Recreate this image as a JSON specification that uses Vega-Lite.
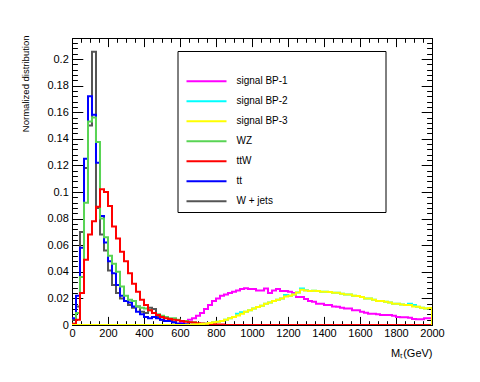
{
  "$schema": "https://vega.github.io/schema/vega-lite/v6.json",
  "width": 360,
  "height": 287,
  "autosize": {"type": "none"},
  "padding": {"left": 72, "top": 38, "right": 48, "bottom": 57},
  "background": "white",
  "config": {
    "view": {"stroke": "black", "strokeWidth": 1},
    "axis": {"grid": false, "domainColor": "black", "tickColor": "black", "labelColor": "black", "titleColor": "black", "labelFont": "Liberation Sans", "titleFont": "Liberation Sans", "labelFontSize": 11, "titleFontSize": 11, "titleFontWeight": "normal", "domainWidth": 1, "tickWidth": 1}
  },
  "data": {"values": [
    {"s":"signal BP-1","x":0,"y":0},{"s":"signal BP-1","x":577.8,"y":0.001},{"s":"signal BP-1","x":600,"y":0.002},{"s":"signal BP-1","x":622.2,"y":0.003},{"s":"signal BP-1","x":644.4,"y":0.004},{"s":"signal BP-1","x":666.7,"y":0.005},{"s":"signal BP-1","x":688.9,"y":0.007},{"s":"signal BP-1","x":711.1,"y":0.009},{"s":"signal BP-1","x":733.3,"y":0.012},{"s":"signal BP-1","x":755.6,"y":0.015},{"s":"signal BP-1","x":777.8,"y":0.018},{"s":"signal BP-1","x":800,"y":0.020},{"s":"signal BP-1","x":822.2,"y":0.022},{"s":"signal BP-1","x":844.4,"y":0.023},{"s":"signal BP-1","x":866.7,"y":0.024},{"s":"signal BP-1","x":888.9,"y":0.025},{"s":"signal BP-1","x":911.1,"y":0.026},{"s":"signal BP-1","x":933.3,"y":0.027},{"s":"signal BP-1","x":955.6,"y":0.0277},{"s":"signal BP-1","x":977.8,"y":0.027},{"s":"signal BP-1","x":1000,"y":0.027},{"s":"signal BP-1","x":1022.2,"y":0.026},{"s":"signal BP-1","x":1044.4,"y":0.026},{"s":"signal BP-1","x":1066.7,"y":0.0275},{"s":"signal BP-1","x":1088.9,"y":0.024},{"s":"signal BP-1","x":1111.1,"y":0.026},{"s":"signal BP-1","x":1133.3,"y":0.027},{"s":"signal BP-1","x":1155.6,"y":0.0255},{"s":"signal BP-1","x":1177.8,"y":0.0255},{"s":"signal BP-1","x":1200,"y":0.025},{"s":"signal BP-1","x":1222.2,"y":0.024},{"s":"signal BP-1","x":1244.4,"y":0.021},{"s":"signal BP-1","x":1266.7,"y":0.021},{"s":"signal BP-1","x":1288.9,"y":0.0195},{"s":"signal BP-1","x":1311.1,"y":0.018},{"s":"signal BP-1","x":1333.3,"y":0.0175},{"s":"signal BP-1","x":1355.6,"y":0.016},{"s":"signal BP-1","x":1377.8,"y":0.016},{"s":"signal BP-1","x":1400,"y":0.015},{"s":"signal BP-1","x":1422.2,"y":0.015},{"s":"signal BP-1","x":1444.4,"y":0.014},{"s":"signal BP-1","x":1466.7,"y":0.0138},{"s":"signal BP-1","x":1488.9,"y":0.013},{"s":"signal BP-1","x":1511.1,"y":0.0125},{"s":"signal BP-1","x":1533.3,"y":0.0125},{"s":"signal BP-1","x":1555.6,"y":0.011},{"s":"signal BP-1","x":1577.8,"y":0.011},{"s":"signal BP-1","x":1600,"y":0.010},{"s":"signal BP-1","x":1622.2,"y":0.0093},{"s":"signal BP-1","x":1644.4,"y":0.0085},{"s":"signal BP-1","x":1666.7,"y":0.0085},{"s":"signal BP-1","x":1688.9,"y":0.008},{"s":"signal BP-1","x":1711.1,"y":0.0075},{"s":"signal BP-1","x":1733.3,"y":0.0075},{"s":"signal BP-1","x":1755.6,"y":0.0075},{"s":"signal BP-1","x":1777.8,"y":0.007},{"s":"signal BP-1","x":1800,"y":0.006},{"s":"signal BP-1","x":1822.2,"y":0.0058},{"s":"signal BP-1","x":1844.4,"y":0.0058},{"s":"signal BP-1","x":1866.7,"y":0.0055},{"s":"signal BP-1","x":1888.9,"y":0.0045},{"s":"signal BP-1","x":1911.1,"y":0.0043},{"s":"signal BP-1","x":1933.3,"y":0.0043},{"s":"signal BP-1","x":1955.6,"y":0.005},{"s":"signal BP-1","x":1977.8,"y":0.005},{"s":"signal BP-1","x":2000,"y":0},

    {"s":"signal BP-2","x":0,"y":0},{"s":"signal BP-2","x":666.7,"y":0.0003},{"s":"signal BP-2","x":688.9,"y":0.0005},{"s":"signal BP-2","x":711.1,"y":0.0008},{"s":"signal BP-2","x":733.3,"y":0.001},{"s":"signal BP-2","x":755.6,"y":0.0015},{"s":"signal BP-2","x":777.8,"y":0.002},{"s":"signal BP-2","x":800,"y":0.0025},{"s":"signal BP-2","x":822.2,"y":0.003},{"s":"signal BP-2","x":844.4,"y":0.004},{"s":"signal BP-2","x":866.7,"y":0.005},{"s":"signal BP-2","x":888.9,"y":0.006},{"s":"signal BP-2","x":911.1,"y":0.0085},{"s":"signal BP-2","x":933.3,"y":0.0095},{"s":"signal BP-2","x":955.6,"y":0.010},{"s":"signal BP-2","x":977.8,"y":0.011},{"s":"signal BP-2","x":1000,"y":0.0125},{"s":"signal BP-2","x":1022.2,"y":0.0135},{"s":"signal BP-2","x":1044.4,"y":0.0145},{"s":"signal BP-2","x":1066.7,"y":0.016},{"s":"signal BP-2","x":1088.9,"y":0.017},{"s":"signal BP-2","x":1111.1,"y":0.018},{"s":"signal BP-2","x":1133.3,"y":0.019},{"s":"signal BP-2","x":1155.6,"y":0.020},{"s":"signal BP-2","x":1177.8,"y":0.0225},{"s":"signal BP-2","x":1200,"y":0.022},{"s":"signal BP-2","x":1222.2,"y":0.023},{"s":"signal BP-2","x":1244.4,"y":0.0245},{"s":"signal BP-2","x":1266.7,"y":0.0275},{"s":"signal BP-2","x":1288.9,"y":0.0262},{"s":"signal BP-2","x":1311.1,"y":0.0255},{"s":"signal BP-2","x":1333.3,"y":0.0258},{"s":"signal BP-2","x":1355.6,"y":0.0255},{"s":"signal BP-2","x":1377.8,"y":0.025},{"s":"signal BP-2","x":1400,"y":0.025},{"s":"signal BP-2","x":1422.2,"y":0.0248},{"s":"signal BP-2","x":1444.4,"y":0.0243},{"s":"signal BP-2","x":1466.7,"y":0.0243},{"s":"signal BP-2","x":1488.9,"y":0.0235},{"s":"signal BP-2","x":1511.1,"y":0.023},{"s":"signal BP-2","x":1533.3,"y":0.023},{"s":"signal BP-2","x":1555.6,"y":0.022},{"s":"signal BP-2","x":1577.8,"y":0.0218},{"s":"signal BP-2","x":1600,"y":0.021},{"s":"signal BP-2","x":1622.2,"y":0.020},{"s":"signal BP-2","x":1644.4,"y":0.020},{"s":"signal BP-2","x":1666.7,"y":0.019},{"s":"signal BP-2","x":1688.9,"y":0.018},{"s":"signal BP-2","x":1711.1,"y":0.018},{"s":"signal BP-2","x":1733.3,"y":0.0175},{"s":"signal BP-2","x":1755.6,"y":0.017},{"s":"signal BP-2","x":1777.8,"y":0.016},{"s":"signal BP-2","x":1800,"y":0.016},{"s":"signal BP-2","x":1822.2,"y":0.0155},{"s":"signal BP-2","x":1844.4,"y":0.015},{"s":"signal BP-2","x":1866.7,"y":0.016},{"s":"signal BP-2","x":1888.9,"y":0.015},{"s":"signal BP-2","x":1911.1,"y":0.0138},{"s":"signal BP-2","x":1933.3,"y":0.013},{"s":"signal BP-2","x":1955.6,"y":0.0125},{"s":"signal BP-2","x":1977.8,"y":0.0128},{"s":"signal BP-2","x":2000,"y":0},

    {"s":"signal BP-3","x":0,"y":0},{"s":"signal BP-3","x":666.7,"y":0.0003},{"s":"signal BP-3","x":688.9,"y":0.0005},{"s":"signal BP-3","x":711.1,"y":0.0008},{"s":"signal BP-3","x":733.3,"y":0.001},{"s":"signal BP-3","x":755.6,"y":0.0015},{"s":"signal BP-3","x":777.8,"y":0.002},{"s":"signal BP-3","x":800,"y":0.0025},{"s":"signal BP-3","x":822.2,"y":0.003},{"s":"signal BP-3","x":844.4,"y":0.004},{"s":"signal BP-3","x":866.7,"y":0.005},{"s":"signal BP-3","x":888.9,"y":0.006},{"s":"signal BP-3","x":911.1,"y":0.0072},{"s":"signal BP-3","x":933.3,"y":0.0085},{"s":"signal BP-3","x":955.6,"y":0.010},{"s":"signal BP-3","x":977.8,"y":0.011},{"s":"signal BP-3","x":1000,"y":0.0125},{"s":"signal BP-3","x":1022.2,"y":0.0135},{"s":"signal BP-3","x":1044.4,"y":0.0145},{"s":"signal BP-3","x":1066.7,"y":0.016},{"s":"signal BP-3","x":1088.9,"y":0.017},{"s":"signal BP-3","x":1111.1,"y":0.018},{"s":"signal BP-3","x":1133.3,"y":0.019},{"s":"signal BP-3","x":1155.6,"y":0.020},{"s":"signal BP-3","x":1177.8,"y":0.0215},{"s":"signal BP-3","x":1200,"y":0.022},{"s":"signal BP-3","x":1222.2,"y":0.023},{"s":"signal BP-3","x":1244.4,"y":0.0245},{"s":"signal BP-3","x":1266.7,"y":0.0265},{"s":"signal BP-3","x":1288.9,"y":0.026},{"s":"signal BP-3","x":1311.1,"y":0.0255},{"s":"signal BP-3","x":1333.3,"y":0.0258},{"s":"signal BP-3","x":1355.6,"y":0.0255},{"s":"signal BP-3","x":1377.8,"y":0.025},{"s":"signal BP-3","x":1400,"y":0.025},{"s":"signal BP-3","x":1422.2,"y":0.0248},{"s":"signal BP-3","x":1444.4,"y":0.0243},{"s":"signal BP-3","x":1466.7,"y":0.0243},{"s":"signal BP-3","x":1488.9,"y":0.0235},{"s":"signal BP-3","x":1511.1,"y":0.023},{"s":"signal BP-3","x":1533.3,"y":0.023},{"s":"signal BP-3","x":1555.6,"y":0.022},{"s":"signal BP-3","x":1577.8,"y":0.0218},{"s":"signal BP-3","x":1600,"y":0.021},{"s":"signal BP-3","x":1622.2,"y":0.020},{"s":"signal BP-3","x":1644.4,"y":0.020},{"s":"signal BP-3","x":1666.7,"y":0.019},{"s":"signal BP-3","x":1688.9,"y":0.018},{"s":"signal BP-3","x":1711.1,"y":0.018},{"s":"signal BP-3","x":1733.3,"y":0.0175},{"s":"signal BP-3","x":1755.6,"y":0.017},{"s":"signal BP-3","x":1777.8,"y":0.016},{"s":"signal BP-3","x":1800,"y":0.016},{"s":"signal BP-3","x":1822.2,"y":0.0155},{"s":"signal BP-3","x":1844.4,"y":0.015},{"s":"signal BP-3","x":1866.7,"y":0.015},{"s":"signal BP-3","x":1888.9,"y":0.014},{"s":"signal BP-3","x":1911.1,"y":0.0138},{"s":"signal BP-3","x":1933.3,"y":0.013},{"s":"signal BP-3","x":1955.6,"y":0.0125},{"s":"signal BP-3","x":1977.8,"y":0.0128},{"s":"signal BP-3","x":2000,"y":0},

    {"s":"WZ","x":0,"y":0.001},{"s":"WZ","x":22.2,"y":0.009},{"s":"WZ","x":44.4,"y":0.036},{"s":"WZ","x":66.7,"y":0.092},{"s":"WZ","x":88.9,"y":0.153},{"s":"WZ","x":111.1,"y":0.156},{"s":"WZ","x":133.3,"y":0.1376},{"s":"WZ","x":155.6,"y":0.080},{"s":"WZ","x":177.8,"y":0.066},{"s":"WZ","x":200,"y":0.052},{"s":"WZ","x":222.2,"y":0.046},{"s":"WZ","x":244.4,"y":0.040},{"s":"WZ","x":266.7,"y":0.029},{"s":"WZ","x":288.9,"y":0.022},{"s":"WZ","x":311.1,"y":0.019},{"s":"WZ","x":333.3,"y":0.018},{"s":"WZ","x":355.6,"y":0.014},{"s":"WZ","x":377.8,"y":0.013},{"s":"WZ","x":400,"y":0.0125},{"s":"WZ","x":422.2,"y":0.011},{"s":"WZ","x":444.4,"y":0.009},{"s":"WZ","x":466.7,"y":0.008},{"s":"WZ","x":488.9,"y":0.007},{"s":"WZ","x":511.1,"y":0.006},{"s":"WZ","x":533.3,"y":0.005},{"s":"WZ","x":555.6,"y":0.005},{"s":"WZ","x":577.8,"y":0.004},{"s":"WZ","x":600,"y":0.003},{"s":"WZ","x":622.2,"y":0.003},{"s":"WZ","x":644.4,"y":0.002},{"s":"WZ","x":666.7,"y":0.002},{"s":"WZ","x":688.9,"y":0.001},{"s":"WZ","x":711.1,"y":0.001},{"s":"WZ","x":733.3,"y":0.0005},{"s":"WZ","x":755.6,"y":0},{"s":"WZ","x":2000,"y":0},

    {"s":"ttW","x":0,"y":0.001},{"s":"ttW","x":22.2,"y":0.004},{"s":"ttW","x":44.4,"y":0.024},{"s":"ttW","x":66.7,"y":0.049},{"s":"ttW","x":88.9,"y":0.068},{"s":"ttW","x":111.1,"y":0.078},{"s":"ttW","x":133.3,"y":0.089},{"s":"ttW","x":155.6,"y":0.102},{"s":"ttW","x":177.8,"y":0.100},{"s":"ttW","x":200,"y":0.0895},{"s":"ttW","x":222.2,"y":0.074},{"s":"ttW","x":244.4,"y":0.065},{"s":"ttW","x":266.7,"y":0.055},{"s":"ttW","x":288.9,"y":0.048},{"s":"ttW","x":311.1,"y":0.039},{"s":"ttW","x":333.3,"y":0.031},{"s":"ttW","x":355.6,"y":0.025},{"s":"ttW","x":377.8,"y":0.019},{"s":"ttW","x":400,"y":0.015},{"s":"ttW","x":422.2,"y":0.011},{"s":"ttW","x":444.4,"y":0.009},{"s":"ttW","x":466.7,"y":0.0075},{"s":"ttW","x":488.9,"y":0.006},{"s":"ttW","x":511.1,"y":0.005},{"s":"ttW","x":533.3,"y":0.0045},{"s":"ttW","x":555.6,"y":0.004},{"s":"ttW","x":577.8,"y":0.0035},{"s":"ttW","x":600,"y":0.003},{"s":"ttW","x":622.2,"y":0.0025},{"s":"ttW","x":644.4,"y":0.002},{"s":"ttW","x":666.7,"y":0.0018},{"s":"ttW","x":688.9,"y":0.0014},{"s":"ttW","x":711.1,"y":0.0012},{"s":"ttW","x":733.3,"y":0.001},{"s":"ttW","x":755.6,"y":0.0008},{"s":"ttW","x":777.8,"y":0.0005},{"s":"ttW","x":800,"y":0.0004},{"s":"ttW","x":822.2,"y":0.0003},{"s":"ttW","x":844.4,"y":0},{"s":"ttW","x":2000,"y":0},

    {"s":"tt","x":0,"y":0.005},{"s":"tt","x":22.2,"y":0.022},{"s":"tt","x":44.4,"y":0.058},{"s":"tt","x":66.7,"y":0.125},{"s":"tt","x":88.9,"y":0.172},{"s":"tt","x":111.1,"y":0.158},{"s":"tt","x":133.3,"y":0.122},{"s":"tt","x":155.6,"y":0.082},{"s":"tt","x":177.8,"y":0.062},{"s":"tt","x":200,"y":0.048},{"s":"tt","x":222.2,"y":0.039},{"s":"tt","x":244.4,"y":0.030},{"s":"tt","x":266.7,"y":0.022},{"s":"tt","x":288.9,"y":0.018},{"s":"tt","x":311.1,"y":0.017},{"s":"tt","x":333.3,"y":0.014},{"s":"tt","x":355.6,"y":0.010},{"s":"tt","x":377.8,"y":0.008},{"s":"tt","x":400,"y":0.006},{"s":"tt","x":422.2,"y":0.005},{"s":"tt","x":444.4,"y":0.006},{"s":"tt","x":466.7,"y":0.005},{"s":"tt","x":488.9,"y":0.004},{"s":"tt","x":511.1,"y":0.003},{"s":"tt","x":533.3,"y":0.003},{"s":"tt","x":555.6,"y":0.002},{"s":"tt","x":577.8,"y":0.001},{"s":"tt","x":600,"y":0.001},{"s":"tt","x":622.2,"y":0.0005},{"s":"tt","x":644.4,"y":0},{"s":"tt","x":2000,"y":0},

    {"s":"W + jets","x":0,"y":0.004},{"s":"W + jets","x":22.2,"y":0.014},{"s":"W + jets","x":44.4,"y":0.070},{"s":"W + jets","x":66.7,"y":0.118},{"s":"W + jets","x":88.9,"y":0.150},{"s":"W + jets","x":111.1,"y":0.2055},{"s":"W + jets","x":133.3,"y":0.088},{"s":"W + jets","x":155.6,"y":0.068},{"s":"W + jets","x":177.8,"y":0.056},{"s":"W + jets","x":200,"y":0.041},{"s":"W + jets","x":222.2,"y":0.030},{"s":"W + jets","x":244.4,"y":0.024},{"s":"W + jets","x":266.7,"y":0.020},{"s":"W + jets","x":288.9,"y":0.018},{"s":"W + jets","x":311.1,"y":0.015},{"s":"W + jets","x":333.3,"y":0.013},{"s":"W + jets","x":355.6,"y":0.014},{"s":"W + jets","x":377.8,"y":0.010},{"s":"W + jets","x":400,"y":0.009},{"s":"W + jets","x":422.2,"y":0.013},{"s":"W + jets","x":444.4,"y":0.012},{"s":"W + jets","x":466.7,"y":0.006},{"s":"W + jets","x":488.9,"y":0.004},{"s":"W + jets","x":511.1,"y":0.003},{"s":"W + jets","x":533.3,"y":0.003},{"s":"W + jets","x":555.6,"y":0.002},{"s":"W + jets","x":577.8,"y":0.001},{"s":"W + jets","x":600,"y":0.0005},{"s":"W + jets","x":622.2,"y":0},{"s":"W + jets","x":2000,"y":0}
  ]},
  "encoding": {
    "color": {
      "field": "s", "type": "nominal",
      "scale": {"domain": ["signal BP-1", "signal BP-2", "signal BP-3", "WZ", "ttW", "tt", "W + jets"], "range": ["#ff00ff", "#00ffff", "#ffff00", "#59d454", "#ff0000", "#0000ff", "#555555"]},
      "legend": {
        "orient": "none", "legendX": 105.5, "legendY": 13, "direction": "vertical",
        "title": "\u200b\u00a0\u00a0\u00a0\u00a0\u00a0\u00a0\u00a0\u00a0\u00a0\u00a0\u00a0\u00a0\u00a0\u00a0\u00a0\u00a0\u00a0\u00a0\u00a0\u00a0\u00a0\u00a0\u00a0\u00a0\u00a0\u00a0\u00a0\u00a0\u00a0\u00a0\u00a0\u00a0\u00a0\u00a0\u00a0\u00a0\u00a0\u00a0\u00a0\u00a0\u00a0\u00a0\u00a0\u00a0\u00a0\u00a0\u00a0\u00a0\u00a0\u00a0\u00a0\u00a0\u00a0\u00a0\u00a0\u00a0\u00a0\u00a0\u00a0\u00a0\u00a0\u00a0\u00a0\u00a0\u00a0\u00a0\u00a0\u00a0\u200b",
        "titleFont": "Liberation Sans", "titleFontSize": 11, "titlePadding": 9.5, "titleLimit": 400,
        "padding": 0, "strokeColor": "black", "fillColor": "white", "cornerRadius": 0,
        "symbolType": "stroke", "symbolSize": 1600, "symbolStrokeWidth": 2, "symbolOffset": 8,
        "labelFont": "Liberation Sans", "labelFontSize": 10, "labelColor": "black", "labelOffset": 9,
        "rowPadding": 0, "clipHeight": 19.6, "labelLimit": 300
      }
    }
  },
  "resolve": {"axis": {"x": "independent", "y": "independent"}},
  "layer": [
    {
      "transform": [{"filter": "datum.s === 'signal BP-1'"}],
      "mark": {"type": "line", "interpolate": "step-after", "strokeWidth": 2, "clip": true},
      "encoding": {
        "x": {"field": "x", "type": "quantitative", "scale": {"domain": [0, 2000], "nice": false, "zero": false},
          "axis": {"orient": "bottom",
            "values": [0,50,100,150,200,250,300,350,400,450,500,550,600,650,700,750,800,850,900,950,1000,1050,1100,1150,1200,1250,1300,1350,1400,1450,1500,1550,1600,1650,1700,1750,1800,1850,1900,1950,2000],
            "tickSize": {"condition": {"test": "datum.value % 200 === 0", "value": -8.6}, "value": -4.3},
            "labelExpr": "datum.value % 200 === 0 ? format(datum.value, 'd') : ''",
            "labelPadding": 11.5, "labelOverlap": false, "labelFlush": false,
            "title": "Mₜ(GeV)", "titleX": 360, "titleY": 28, "titleAlign": "right", "titleAnchor": "end", "titleBaseline": "middle"}},
        "y": {"field": "y", "type": "quantitative", "scale": {"domain": [0, 0.2158], "nice": false},
          "axis": {"orient": "left",
            "values": [0,0.004,0.008,0.012,0.016,0.02,0.024,0.028,0.032,0.036,0.04,0.044,0.048,0.052,0.056,0.06,0.064,0.068,0.072,0.076,0.08,0.084,0.088,0.092,0.096,0.1,0.104,0.108,0.112,0.116,0.12,0.124,0.128,0.132,0.136,0.14,0.144,0.148,0.152,0.156,0.16,0.164,0.168,0.172,0.176,0.18,0.184,0.188,0.192,0.196,0.2,0.204,0.208,0.212],
            "tickSize": {"condition": {"test": "abs(datum.value*50 - round(datum.value*50)) < 0.01", "value": -10.8}, "value": -5.4},
            "labelExpr": "abs(datum.value*50 - round(datum.value*50)) < 0.01 ? format(datum.value, '.2~f') : ''",
            "labelPadding": 14.5, "labelOverlap": false, "labelFlush": false,
            "title": "Normalized distribution", "titleFontSize": 9.5, "titleX": -47, "titleY": -3, "titleAngle": 270, "titleAlign": "right", "titleBaseline": "middle"}}
      }
    },
    {
      "transform": [{"filter": "datum.s === 'signal BP-2'"}],
      "mark": {"type": "line", "interpolate": "step-after", "strokeWidth": 2, "clip": true},
      "encoding": {
        "x": {"field": "x", "type": "quantitative", "scale": {"domain": [0, 2000], "nice": false, "zero": false}, "axis": null},
        "y": {"field": "y", "type": "quantitative", "scale": {"domain": [0, 0.2158], "nice": false}, "axis": null}
      }
    },
    {
      "transform": [{"filter": "datum.s === 'W + jets'"}],
      "mark": {"type": "line", "interpolate": "step-after", "strokeWidth": 2, "clip": true},
      "encoding": {
        "x": {"field": "x", "type": "quantitative", "scale": {"domain": [0, 2000], "nice": false, "zero": false}, "axis": null},
        "y": {"field": "y", "type": "quantitative", "scale": {"domain": [0, 0.2158], "nice": false}, "axis": null}
      }
    },
    {
      "transform": [{"filter": "datum.s === 'tt'"}],
      "mark": {"type": "line", "interpolate": "step-after", "strokeWidth": 2, "clip": true},
      "encoding": {
        "x": {"field": "x", "type": "quantitative", "scale": {"domain": [0, 2000], "nice": false, "zero": false}, "axis": null},
        "y": {"field": "y", "type": "quantitative", "scale": {"domain": [0, 0.2158], "nice": false}, "axis": null}
      }
    },
    {
      "transform": [{"filter": "datum.s === 'WZ'"}],
      "mark": {"type": "line", "interpolate": "step-after", "strokeWidth": 2, "clip": true},
      "encoding": {
        "x": {"field": "x", "type": "quantitative", "scale": {"domain": [0, 2000], "nice": false, "zero": false}, "axis": null},
        "y": {"field": "y", "type": "quantitative", "scale": {"domain": [0, 0.2158], "nice": false}, "axis": null}
      }
    },
    {
      "transform": [{"filter": "datum.s === 'ttW'"}],
      "mark": {"type": "line", "interpolate": "step-after", "strokeWidth": 2, "clip": true},
      "encoding": {
        "x": {"field": "x", "type": "quantitative", "scale": {"domain": [0, 2000], "nice": false, "zero": false}, "axis": null},
        "y": {"field": "y", "type": "quantitative", "scale": {"domain": [0, 0.2158], "nice": false}, "axis": null}
      }
    },
    {
      "transform": [{"filter": "datum.s === 'signal BP-3'"}],
      "mark": {"type": "line", "interpolate": "step-after", "strokeWidth": 2, "clip": true},
      "encoding": {
        "x": {"field": "x", "type": "quantitative", "scale": {"domain": [0, 2000], "nice": false, "zero": false},
          "axis": {"orient": "top",
            "values": [0,50,100,150,200,250,300,350,400,450,500,550,600,650,700,750,800,850,900,950,1000,1050,1100,1150,1200,1250,1300,1350,1400,1450,1500,1550,1600,1650,1700,1750,1800,1850,1900,1950,2000],
            "tickSize": {"condition": {"test": "datum.value % 200 === 0", "value": -8.6}, "value": -4.3},
            "labels": false, "title": null}},
        "y": {"field": "y", "type": "quantitative", "scale": {"domain": [0, 0.2158], "nice": false},
          "axis": {"orient": "right",
            "values": [0,0.004,0.008,0.012,0.016,0.02,0.024,0.028,0.032,0.036,0.04,0.044,0.048,0.052,0.056,0.06,0.064,0.068,0.072,0.076,0.08,0.084,0.088,0.092,0.096,0.1,0.104,0.108,0.112,0.116,0.12,0.124,0.128,0.132,0.136,0.14,0.144,0.148,0.152,0.156,0.16,0.164,0.168,0.172,0.176,0.18,0.184,0.188,0.192,0.196,0.2,0.204,0.208,0.212],
            "tickSize": {"condition": {"test": "abs(datum.value*50 - round(datum.value*50)) < 0.01", "value": -10.8}, "value": -5.4},
            "labels": false, "title": null}}
      }
    }
  ]
}
